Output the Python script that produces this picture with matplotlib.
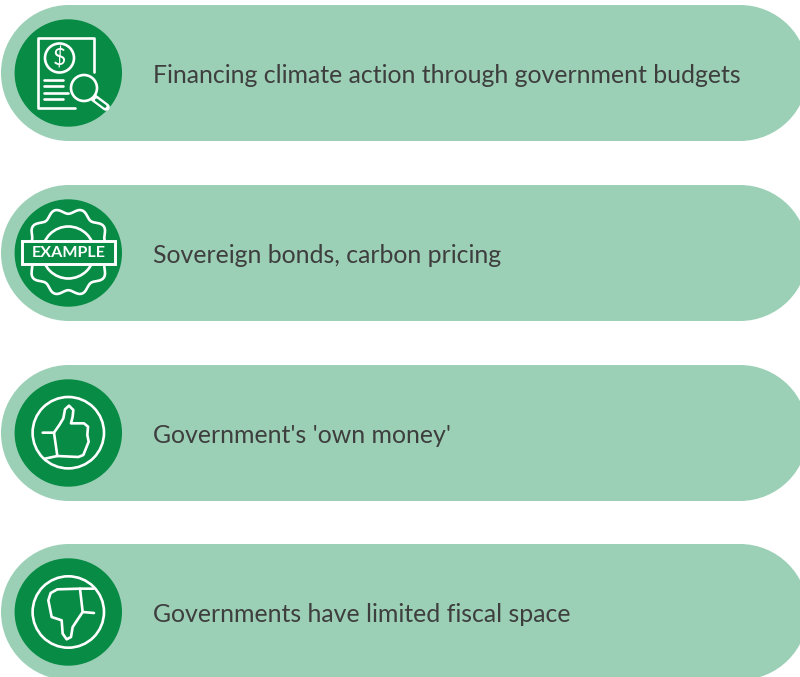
import numpy as np
from matplotlib import pyplot as plt
from matplotlib.patches import Circle, Rectangle

plt.rcParams['font.family'] = ['Lato', 'DejaVu Sans']

# Row labels
labels = ["Financing climate action through government budgets",
          "Sovereign bonds, carbon pricing",
          "Government's 'own money'",
          "Governments have limited fiscal space"]

PILL = '#9BD0B6'
GREEN = '#078B45'
TEXT = '#3E3E3E'

# pill tops in pixels
tops = [5, 185, 365, 544]

fig = plt.figure(figsize=(8, 6.77), dpi=100)
ax = fig.add_axes([0, 0, 1, 1])
ax.set_xlim(0, 800)
ax.set_ylim(677, 0)
ax.axis('off')


def line(xs, ys, lw=1.9):
    ax.plot(xs, ys, color='white', lw=lw, solid_capstyle='round', solid_joinstyle='round', zorder=4)


# zoomed crop coords (3x) to pixels
def hand(points, y0):
    pts = np.array(points) / 3
    line(pts[:, 0], pts[:, 1] + y0)


# Pills, circles, labels
for top, label in zip(tops, labels):
    ax.add_patch(Circle((69, top + 68), 68, fc=PILL, ec='none', zorder=1))
    ax.add_patch(Circle((740, top + 68), 68, fc=PILL, ec='none', zorder=1))
    ax.add_patch(Rectangle((69, top), 671, 136, fc=PILL, ec='none', zorder=1))
    ax.add_patch(Circle((68.3, top + 68), 53.7, fc=GREEN, ec='none', zorder=2))
    ax.text(153, top + 70.5, label, color=TEXT, fontsize=17.92, va='center', ha='left', zorder=3)

# Icon 1: document and magnifier
line([94, 94, 37.5, 37.5, 75], [72, 37.5, 37.5, 108, 108])
ax.add_patch(Circle((59.5, 58), 14.5, fc='none', ec='white', lw=1.9, zorder=4))
ax.text(59.5, 58, "$", color='white', fontsize=16.5, ha='center', va='center', zorder=4)
for x1, y in zip([63, 63, 68, 63], [79.5, 86, 92.7, 99.3]):
    line([44, x1], [y, y])
ax.plot([94, 106], [98, 107], color='white', lw=5.5, solid_capstyle='round', zorder=4)
ax.plot([96.5, 105], [100, 106.3], color=GREEN, lw=2.2, solid_capstyle='round', zorder=4)
ax.add_patch(Circle((84, 88), 13, fc=GREEN, ec='white', lw=1.9, zorder=4))

# Icon 2: example badge
theta = np.linspace(0, 2 * np.pi, 400)
radius = 41 + 2.8 * np.cos(10 * (theta - np.pi / 2 - np.pi / 10))
line(68.3 + radius * np.cos(theta), 252 + radius * np.sin(theta))
ax.add_patch(Circle((68.3, 252.5), 26, fc='none', ec='white', lw=1.9, zorder=4))
ax.add_patch(Rectangle((22, 240.5), 93, 23.5, fc=GREEN, ec='white', lw=2.1, zorder=5))
ax.text(68.3, 253, "EXAMPLE", color='white', fontsize=11.6, fontweight='bold',
        ha='center', va='center', zorder=6)

# Icon 3: thumb up
ax.add_patch(Circle((68.3, 432.7), 35.7, fc='none', ec='white', lw=1.9, zorder=4))
hand([(128, 218), (162, 218), (172, 288), (135, 296)], 360)
hand([(162, 218), (178, 195), (190, 175), (195, 148), (207, 137), (220, 150), (218, 170), (213, 190),
      (252, 190), (264, 200), (262, 225), (266, 245), (258, 265), (250, 285), (235, 291), (172, 288)], 360)

# Icon 4: thumb down
ax.add_patch(Circle((68.3, 612), 35.7, fc='none', ec='white', lw=1.9, zorder=4))
hand([(282, 155), (240, 155), (248, 225), (282, 228)], 537)
hand([(240, 155), (172, 157), (152, 168), (145, 190), (150, 215), (155, 240), (185, 250), (188, 290),
      (200, 307), (213, 300), (218, 270), (248, 225)], 537)

plt.savefig("out.png", dpi=100)
